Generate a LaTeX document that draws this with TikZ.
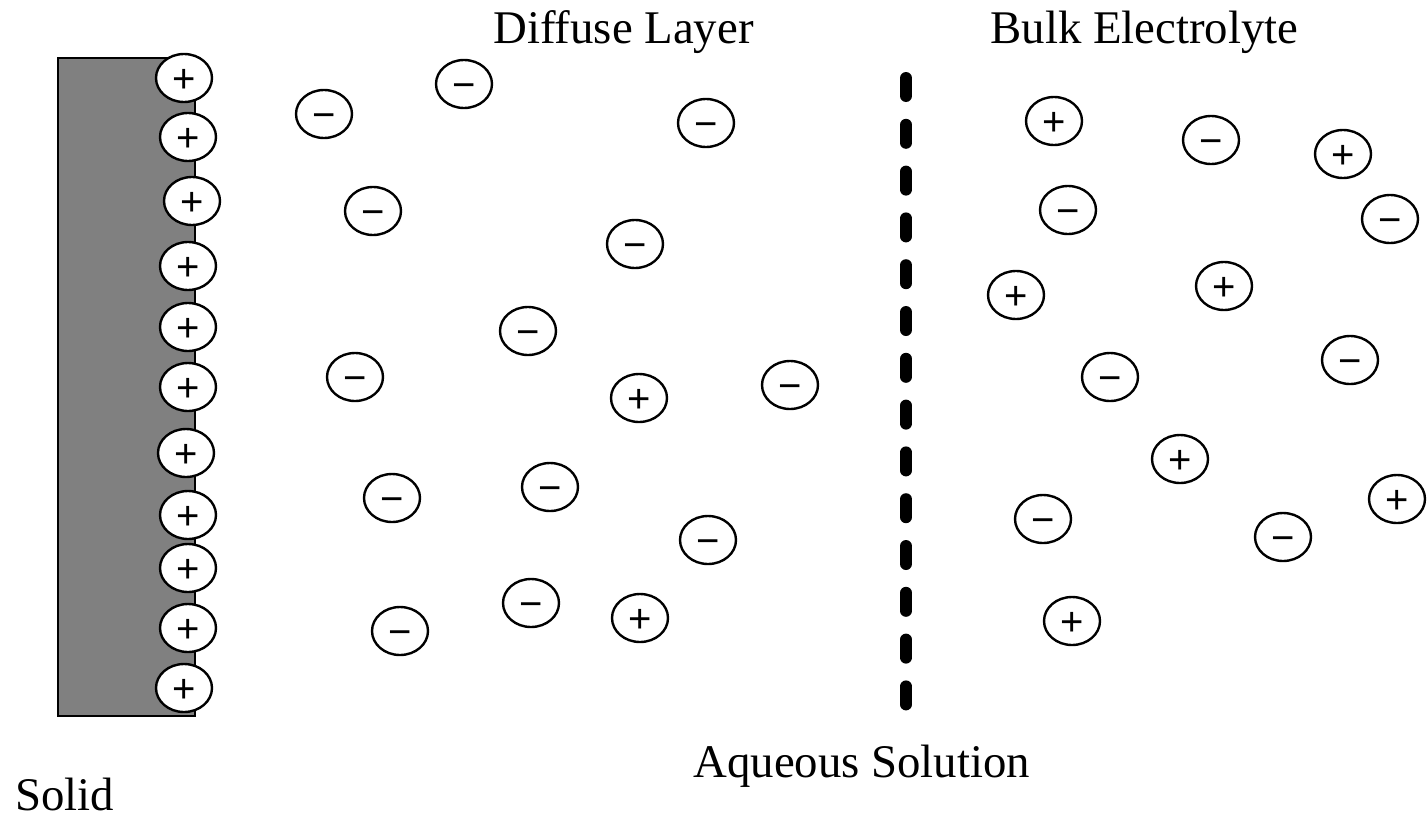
\documentclass[tikz,border=0pt]{standalone}
\usepackage{fontspec}
\setmainfont{Liberation Serif}
\newfontfamily\signfont{Liberation Sans}
\usetikzlibrary{shapes.geometric}
\begin{document}
\begin{tikzpicture}[x=0.5pt,y=-0.5pt,
  ion/.style={ellipse, draw, line width=1.2pt, fill=white, minimum width=28pt, minimum height=24pt, inner sep=0pt, text height=14pt, text depth=0pt, font=\signfont\fontsize{20}{20}\selectfont},
  lbl/.style={anchor=base west, inner sep=0pt, font=\fontsize{23.4}{24}\selectfont},
  boundary/.style={line width=6pt, line cap=round, dash pattern=on 9pt off 14.4pt}]
\useasboundingbox (0,0) rectangle (1428,819);
% solid
\draw[line width=1pt, fill={rgb,255:red,128;green,128;blue,128}] (58,58) rectangle (195,716);
% surface charges
\foreach \y/\x [count=\i] in {78/184,137/188,201/192,266/188,327/188,387/188,453/186,515/188,568/188,628/188,688/184}
  \node[ion] (s\i) at (\x,\y) {+};
% diffuse layer
\node[ion] (d1) at (324,114) {−};
\node[ion] (d2) at (464,84) {−};
\node[ion] (d3) at (706,123) {−};
\node[ion] (d4) at (373,211) {−};
\node[ion] (d5) at (635,244) {−};
\node[ion] (d6) at (528,331) {−};
\node[ion] (d7) at (355,377) {−};
\node[ion] (d8) at (639,398) {+};
\node[ion] (d9) at (790,385) {−};
\node[ion] (d10) at (392,498) {−};
\node[ion] (d11) at (550,487) {−};
\node[ion] (d12) at (708,540) {−};
\node[ion] (d13) at (400,631) {−};
\node[ion] (d14) at (531,603) {−};
\node[ion] (d15) at (640,618) {+};
% bulk
\node[ion] (b1) at (1054,121) {+};
\node[ion] (b2) at (1211,140) {−};
\node[ion] (b3) at (1343,154) {+};
\node[ion] (b4) at (1068,210) {−};
\node[ion] (b5) at (1390,219) {−};
\node[ion] (b6) at (1016,295) {+};
\node[ion] (b7) at (1224,286) {+};
\node[ion] (b8) at (1350,360) {−};
\node[ion] (b9) at (1110,377) {−};
\node[ion] (b10) at (1180,459) {+};
\node[ion] (b11) at (1043,519) {−};
\node[ion] (b12) at (1397,499) {+};
\node[ion] (b13) at (1283,537) {−};
\node[ion] (b14) at (1072,621) {+};
% boundary
\coordinate (top) at (906,78);
\coordinate (bot) at (906,704.4);
\draw[boundary] (top) -- (bot);
% labels
\node[lbl] (t1) at (493,43) {Diffuse Layer};
\node[lbl] (t2) at (990,43) {Bulk Electrolyte};
\node[lbl] (t3) at (693,777) {Aqueous Solution};
\node[lbl] (t4) at (15,810) {Solid};
\end{tikzpicture}
\end{document}
